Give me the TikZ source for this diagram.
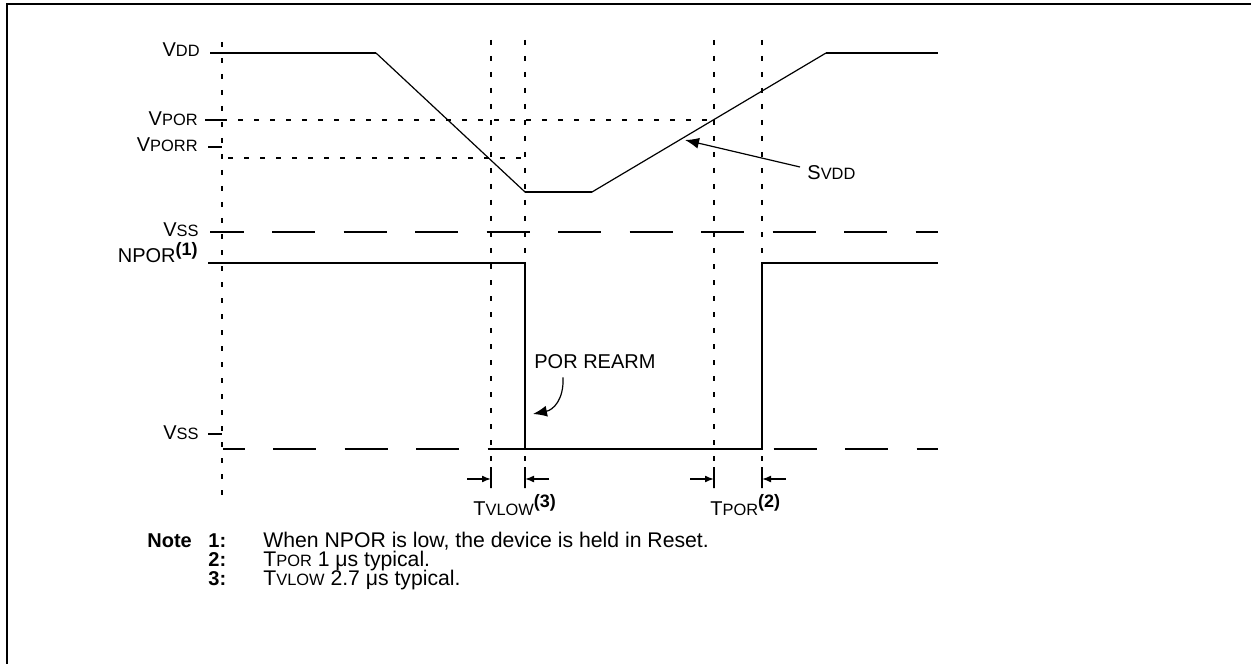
\documentclass[tikz,border=0pt]{standalone}
\usepackage{fontspec}
\setmainfont{Liberation Sans}
\usetikzlibrary{arrows.meta, positioning, calc}
\newcommand{\smc}[1]{{\fontsize{8.2}{9}\selectfont #1}}
\newcommand{\fnref}[1]{\raisebox{0.38em}{\fontsize{9}{10}\selectfont\bfseries(#1)}}

\begin{document}
\begin{tikzpicture}[x=0.5pt, y=-0.5pt, font=\fontsize{10}{12}\selectfont,
  sig/.style={line width=1pt},
  ramp/.style={line width=0.6pt},
  guide/.style={line width=0.7pt, dash pattern=on 2.5pt off 5.5pt},
  vss/.style={line width=1pt, dash pattern=on 21.5pt off 14.25pt},
  lbl/.style={anchor=base east, inner sep=0pt},
  txt/.style={anchor=base west, inner sep=0pt},
  notefont/.style={font=\fontsize{10.6}{12}\selectfont},
  dim/.style={-{Latex[length=4.5pt,width=3.5pt]}, line width=0.8pt},
  callout/.style={-{Latex[length=7pt,width=5.5pt]}, line width=0.6pt}]
  \useasboundingbox (0,0) rectangle (1251,663);
  \draw[line width=1pt] (1270,4) -- (7,4) -- (7,680);

  % level labels and ticks
  \node[lbl] (vdd)   at (200,57)  {V\smc{DD}};
  \node[lbl] (vpor)  at (198,126) {V\smc{POR}};
  \node[lbl] (vporr) at (198,152) {V\smc{PORR}};
  \node[lbl] (vssa)  at (199,236) {V\smc{SS}};
  \node[lbl] (npor)  at (198,263) {NPOR\fnref{1}};
  \node[lbl] (vssb)  at (199,439) {V\smc{SS}};
  \draw[sig] (205,120) -- (222,120);
  \draw[sig] (208,147) -- (222,147);
  \draw[sig] (208,434) -- (222,434);

  % guide lines
  \draw[guide] (222,42) -- (222,495);
  \foreach \gx in {491,525,714,762}
    \draw[guide] (\gx,40) -- (\gx,488);
  \draw[guide] (222,120) -- (714,120);
  \draw[guide] (228,158) -- (525,158);
  \foreach \gx in {491,525,714,762}
    \draw[sig] (\gx,467) -- (\gx,488);

  % supply rails
  \draw[vss, dash phase=4.75pt]  (210,232) -- (938,232);
  \draw[vss, dash phase=10.75pt] (223,449) -- (938,449);

  % VDD waveform
  \coordinate (d0) at (210,53);
  \coordinate (d1) at (376,53);
  \coordinate (d2) at (525,192);
  \coordinate (d3) at (592,192);
  \coordinate (d4) at (826,53);
  \coordinate (d5) at (938,53);
  \draw[ramp] (d1) -- (d2) -- (d3) -- (d4);
  \draw[sig] (d0) -- (d1);
  \draw[sig] (d2) -- (d3);
  \draw[sig] (d4) -- (d5);

  % NPOR waveform
  \draw[sig] (208,263) -- (525,263) -- (525,449) -- (762,449)
    -- (762,263) -- (938,263);

  % SVDD callout
  \node[txt, anchor=west] (svdd) at (807,173) {S\smc{VDD}};
  \coordinate (slope) at (685,140);
  \draw[callout] ($(svdd.west)+(-7,-6)$) -- (slope);

  % POR REARM callout
  \node[txt, anchor=west] (rearm) at (534,362) {POR REARM};
  \coordinate (edge) at (533,414);
  \draw[callout] ($(rearm.south west)+(29,8)$)
    .. controls (564,400) and (553,410) .. (edge);

  % timing markers
  \draw[dim] (467,479) -- (491,479);
  \draw[dim] (549,479) -- (525,479);
  \draw[dim] (690,479) -- (714,479);
  \draw[dim] (786,479) -- (762,479);
  \node[txt] (tvlow) at (473,515) {T\smc{VLOW}\fnref{3}};
  \node[txt] (tpor)  at (710,515) {T\smc{POR}\fnref{2}};

  % notes
  \node[txt, notefont, font=\bfseries] (nhead) at (147,547) {Note};
  \node[txt, notefont, font=\bfseries] (n1) at (208,547) {1:};
  \node[txt, notefont, font=\bfseries] (n2) at (208,566) {2:};
  \node[txt, notefont, font=\bfseries] (n3) at (208,585) {3:};
  \node[txt, notefont] (t1) at (263,547) {When NPOR is low, the device is held in Reset.};
  \node[txt, notefont] (t2) at (263,566) {T\smc{POR} 1 μs typical.};
  \node[txt, notefont] (t3) at (263,585) {T\smc{VLOW} 2.7 μs typical.};
\end{tikzpicture}
\end{document}
